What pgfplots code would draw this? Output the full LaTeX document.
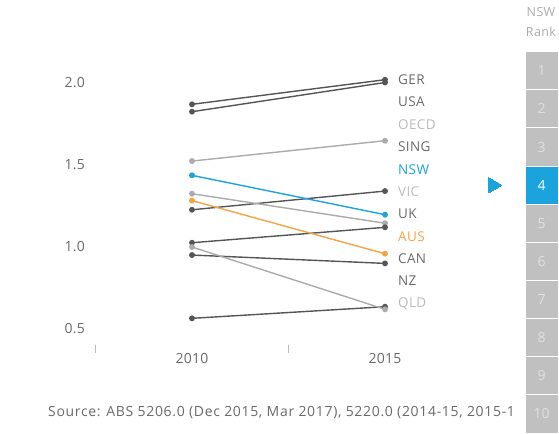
\documentclass[border=0pt]{standalone}
\usepackage{fontspec}
\setmainfont{Open Sans}
\usepackage{pgfplots}
\pgfplotsset{compat=1.18}
\definecolor{dk}{HTML}{555555}
\definecolor{lt}{HTML}{ABABAB}
\definecolor{lbl}{HTML}{BBBBBB}
\definecolor{nsw}{HTML}{1BA3DD}
\definecolor{aus}{HTML}{F4A442}
\definecolor{txt}{HTML}{6A6A6A}
\definecolor{box}{HTML}{C0C0C0}
\begin{document}
\begin{tikzpicture}
\path (0pt,0pt) rectangle (559pt,433pt);
\begin{axis}[at={(95.5pt,87.6pt)}, anchor=south west, scale only axis,
  width=386pt, height=287pt, xmin=-0.5, xmax=1.5, ymin=0.4, ymax=2.15,
  axis x line*=bottom, axis y line*=left, axis line style={draw=none},
  clip=false,
  xtick={0,1}, xticklabels={2010,2015},
  ytick={0.5,1,1.5,2}, yticklabels={0.5,1.0,1.5,2.0},
  major tick length=0pt,
  extra x ticks={-0.5,0.5}, extra x tick labels={},
  extra x tick style={major tick length=8pt, tick align=outside, tick style={draw=lbl, line width=0.8pt}},
  tick label style={font=\fontsize{14}{16}\selectfont\addfontfeatures{LetterSpace=2}, text=txt},
  xticklabel style={yshift=-4pt},
  yticklabel style={xshift=-7pt},
  every axis plot/.append style={line width=1.4pt, mark=*, mark size=2.2pt},
]
\addplot[dk, mark options={fill=dk}] coordinates {(0,1.870)(1,2.020)}; % GER
\addplot[dk, mark options={fill=dk}] coordinates {(0,1.825)(1,2.003)}; % USA
\addplot[lt, mark options={fill=lt}] coordinates {(0,1.524)(1,1.648)}; % OECD
\addplot[dk, mark options={fill=dk}] coordinates {(0,1.227)(1,1.341)}; % SING
\addplot[nsw, mark options={fill=nsw}] coordinates {(0,1.437)(1,1.197)}; % NSW
\addplot[lt, mark options={fill=lt}] coordinates {(0,1.325)(1,1.145)}; % VIC
\addplot[dk, mark options={fill=dk}] coordinates {(0,1.026)(1,1.120)}; % UK
\addplot[aus, mark options={fill=aus}] coordinates {(0,1.283)(1,0.959)}; % AUS
\addplot[dk, mark options={fill=dk}] coordinates {(0,0.951)(1,0.900)}; % CAN
\addplot[dk, mark options={fill=dk}] coordinates {(0,0.565)(1,0.636)}; % NZ
\addplot[lt, mark options={fill=lt}] coordinates {(0,1.000)(1,0.620)}; % QLD
\begin{scope}[every node/.style={anchor=west, font=\fontsize{13.5}{15}\selectfont\addfontfeatures{LetterSpace=3}, inner sep=0pt}]
\node[text=txt] at (axis cs:1.067,2.018) {GER};
\node[text=txt] at (axis cs:1.067,1.884) {USA};
\node[text=lbl] at (axis cs:1.067,1.744) {OECD};
\node[text=txt] at (axis cs:1.067,1.610) {SING};
\node[text=nsw] at (axis cs:1.067,1.470) {NSW};
\node[text=lbl] at (axis cs:1.067,1.335) {VIC};
\node[text=txt] at (axis cs:1.067,1.201) {UK};
\node[text=aus] at (axis cs:1.067,1.061) {AUS};
\node[text=txt] at (axis cs:1.067,0.927) {CAN};
\node[text=txt] at (axis cs:1.067,0.793) {NZ};
\node[text=lbl] at (axis cs:1.067,0.652) {QLD};
\end{scope}
\end{axis}
\begin{axis}[at={(525pt,381.3pt)}, anchor=north west, scale only axis,
  width=33pt, height=381.3pt, xmin=0, xmax=1, ymin=0.5, ymax=10.5,
  y dir=reverse, hide axis, clip=false]
\addplot[xbar, bar width=1, fill=box, draw=white, line width=1pt] coordinates {(1,1)(1,2)(1,3)(1,5)(1,6)(1,7)(1,8)(1,9)(1,10)};
\addplot[xbar, bar width=1, fill=nsw, draw=white, line width=1pt] coordinates {(1,4)};
\addplot[nsw, only marks, mark=triangle*, mark size=9pt, mark options={rotate=-90, fill=nsw, draw=nsw, line width=0pt}] coordinates {(-0.97,4)};
\begin{scope}[every node/.style={font=\fontsize{14}{16}\selectfont, text=white!88!black}]
\node at (axis cs:0.5,1) {1};
\node at (axis cs:0.5,2) {2};
\node at (axis cs:0.5,3) {3};
\node[text=white] at (axis cs:0.5,4) {4};
\node at (axis cs:0.5,5) {5};
\node at (axis cs:0.5,6) {6};
\node at (axis cs:0.5,7) {7};
\node at (axis cs:0.5,8) {8};
\node at (axis cs:0.5,9) {9};
\node at (axis cs:0.5,10) {10};
\end{scope}
\end{axis}
\node[anchor=west, text=txt, font=\fontsize{14}{16}\selectfont\addfontfeatures{LetterSpace=4.8}, inner sep=0pt] at (48pt,20pt) {Source: ABS 5206.0 (Dec 2015, Mar 2017), 5220.0 (2014-15, 2015-1};
\node[text=lt, font=\fontsize{12.5}{14}\selectfont\addfontfeatures{LetterSpace=3}, inner sep=0pt] at (541pt,421pt) {NSW};
\node[text=lt, font=\fontsize{12.5}{14}\selectfont\addfontfeatures{LetterSpace=3}, inner sep=0pt] at (541pt,401pt) {Rank};
\end{tikzpicture}
\end{document}
